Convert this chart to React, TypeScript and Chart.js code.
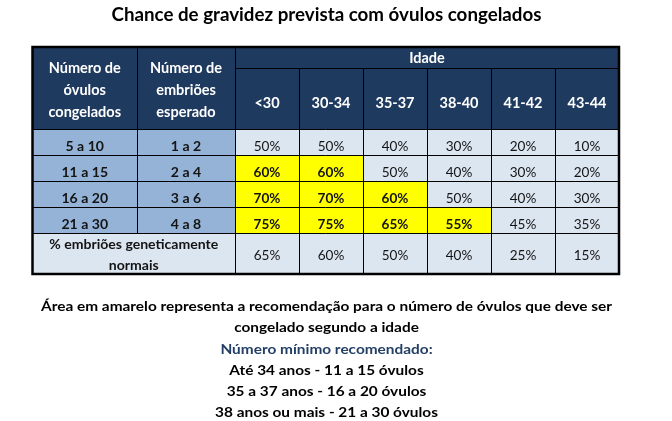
import React, { useEffect, useRef } from 'react';
import { Chart, registerables } from 'chart.js';
Chart.register(...registerables);

// ---------- data ----------
const titleText = 'Chance de gravidez prevista com óvulos congelados';
const ageHeader = 'Idade';
const ageGroups = ['<30', '30-34', '35-37', '38-40', '41-42', '43-44'];
const eggHeader = ['Número de', 'óvulos', 'congelados'];
const embryoHeader = ['Número de', 'embriões', 'esperado'];
const eggRanges = ['5 a 10', '11 a 15', '16 a 20', '21 a 30'];
const embryoRanges = ['1 a 2', '2 a 4', '3 a 6', '4 a 8'];
const pregnancyChance = [
  [50, 50, 40, 30, 20, 10],
  [60, 60, 50, 40, 30, 20],
  [70, 70, 60, 50, 40, 30],
  [75, 75, 65, 55, 45, 35],
];
const recommended = [
  [0, 0, 0, 0, 0, 0],
  [1, 1, 0, 0, 0, 0],
  [1, 1, 1, 0, 0, 0],
  [1, 1, 1, 1, 0, 0],
];
const normalLabel = ['% embriões geneticamente', 'normais'];
const normalEmbryos = [65, 60, 50, 40, 25, 15];
const noteLines = [
  'Área em amarelo representa a recomendação para o número de óvulos que deve ser',
  'congelado segundo a idade',
];
const minHeader = 'Número mínimo recomendado:';
const minLines = [
  'Até 34 anos - 11 a 15 óvulos',
  '35 a 37 anos - 16 a 20 óvulos',
  '38 anos ou mais - 21 a 30 óvulos',
];

// ---------- layout / style ----------
const COLS = [32.5, 137, 235, 299, 363, 427, 491, 555, 619];
const ROWS = [47, 68, 129, 155, 181, 207, 233, 274];
const CENTER_X = 326.5;
const FONT = 'Lato, "Open Sans", sans-serif';
const NAVY = '#1F3A5F';
const LABEL_BLUE = '#95B3D7';
const CELL_BLUE = '#DCE6F1';
const YELLOW = '#FFFF00';
const INK = '#141414';
const SIZE_RATIO = 0.92; // Lato size giving Calibri-like glyph height

const tablePlugin = {
  id: 'tableDraw',
  afterDraw(chart: any) {
    const { ctx, scales } = chart;
    const xs = scales.x;
    const ys = scales.y;
    const X = (v: number) => xs.getPixelForValue(v);
    const Y = (v: number) => ys.getPixelForValue(v);

    ctx.save();
    ctx.fillStyle = '#ffffff';
    ctx.fillRect(0, 0, chart.width, chart.height);

    // horizontal scale factors so text widths match the reference
    const fitX = (s: string, target: number, size: number) => {
      ctx.font = `bold ${size * SIZE_RATIO}px ${FONT}`;
      return target / ctx.measureText(s).width;
    };
    const sxNote = fitX(noteLines[0], 571, 15);
    const sxTitle = fitX(titleText, 430, 20);
    const sxBody = fitX(normalLabel[0], 169, 15);

    const cell = (c0: number, c1: number, r0: number, r1: number, fill: string) => {
      ctx.fillStyle = fill;
      ctx.fillRect(X(COLS[c0]), Y(ROWS[r0]), X(COLS[c1]) - X(COLS[c0]), Y(ROWS[r1]) - Y(ROWS[r0]));
    };
    const text = (s: string, cx: number, by: number, size: number, weight: string, color: string, sx: number) => {
      ctx.save();
      ctx.font = `${weight} ${size * SIZE_RATIO}px ${FONT}`;
      ctx.fillStyle = color;
      ctx.textAlign = 'center';
      ctx.textBaseline = 'alphabetic';
      ctx.translate(X(cx), Y(by));
      ctx.scale(sx, 1);
      ctx.fillText(s, 0, 0);
      ctx.restore();
    };
    const colMid = (c: number) => (COLS[c] + COLS[c + 1]) / 2;

    // header fills
    cell(0, 8, 0, 2, NAVY);
    // body fills
    eggRanges.forEach((_, r) => {
      cell(0, 2, r + 2, r + 3, LABEL_BLUE);
      ageGroups.forEach((_, c) => {
        cell(c + 2, c + 3, r + 2, r + 3, recommended[r][c] ? YELLOW : CELL_BLUE);
      });
    });
    cell(0, 8, 6, 7, CELL_BLUE);

    // grid lines
    ctx.strokeStyle = '#000000';
    ctx.lineWidth = 1;
    const hline = (r: number, c0: number, c1: number) => {
      ctx.beginPath();
      ctx.moveTo(X(COLS[c0]), Math.round(Y(ROWS[r])) + 0.5);
      ctx.lineTo(X(COLS[c1]), Math.round(Y(ROWS[r])) + 0.5);
      ctx.stroke();
    };
    const vline = (c: number, r0: number, r1: number) => {
      ctx.beginPath();
      ctx.moveTo(Math.round(X(COLS[c])) + 0.5, Y(ROWS[r0]));
      ctx.lineTo(Math.round(X(COLS[c])) + 0.5, Y(ROWS[r1]));
      ctx.stroke();
    };
    hline(1, 2, 8);
    for (let r = 2; r <= 6; r++) hline(r, 0, 8);
    vline(1, 0, 6);
    vline(2, 0, 7);
    for (let c = 3; c <= 7; c++) vline(c, 1, 7);
    ctx.lineWidth = 2.5;
    ctx.strokeRect(X(COLS[0]), Y(ROWS[0]), X(COLS[8]) - X(COLS[0]), Y(ROWS[7]) - Y(ROWS[0]));

    // title
    text(titleText, CENTER_X, 21, 20, 'bold', '#000000', sxTitle);

    // header texts
    const hs = 15.5;
    const headBase = [73, 95, 117];
    eggHeader.forEach((s, i) => text(s, colMid(0), headBase[i], hs, 'bold', '#ffffff', sxBody));
    embryoHeader.forEach((s, i) => text(s, colMid(1), headBase[i], hs, 'bold', '#ffffff', sxBody));
    text(ageHeader, (COLS[2] + COLS[8]) / 2, 63, hs, 'bold', '#ffffff', sxBody);
    ageGroups.forEach((s, c) => text(s, colMid(c + 2), 108, hs, 'bold', '#ffffff', sxBody));

    // body texts
    const bs = 15;
    const vs = 14.5;
    eggRanges.forEach((s, r) => {
      const by = ROWS[r + 3] - 4.5;
      text(s, colMid(0), by, bs, 'bold', INK, sxBody);
      text(embryoRanges[r], colMid(1), by, bs, 'bold', INK, sxBody);
      pregnancyChance[r].forEach((v, c) => {
        text(`${v}%`, colMid(c + 2), by, vs, recommended[r][c] ? 'bold' : 'normal', INK, sxBody);
      });
    });
    text(normalLabel[0], (COLS[0] + COLS[2]) / 2, 248.5, bs, 'bold', INK, sxBody);
    text(normalLabel[1], (COLS[0] + COLS[2]) / 2, 270, bs, 'bold', INK, sxBody);
    normalEmbryos.forEach((v, c) => text(`${v}%`, colMid(c + 2), 260, vs, 'normal', INK, sxBody));

    // notes
    const ns = 15;
    const noteBase = [311, 332, 353.5, 374.5, 395.5, 416.5];
    text(noteLines[0], CENTER_X, noteBase[0], ns, 'bold', '#000000', sxNote);
    text(noteLines[1], CENTER_X, noteBase[1], ns, 'bold', '#000000', sxNote);
    text(minHeader, CENTER_X, noteBase[2], ns, 'bold', '#243F66', sxNote);
    minLines.forEach((s, i) => text(s, CENTER_X, noteBase[3 + i], ns, 'bold', '#000000', sxNote));

    ctx.restore();
  },
};

export default function App() {
  const ref = useRef<HTMLCanvasElement>(null);
  useEffect(() => {
    document.body.style.margin = '0';
    const chart = new Chart(ref.current as HTMLCanvasElement, {
      type: 'scatter',
      data: { datasets: [{ data: [] }] },
      options: {
        responsive: false,
        animation: false,
        layout: { padding: 0 },
        plugins: { legend: { display: false }, tooltip: { enabled: false }, title: { display: false } },
        scales: {
          x: { type: 'linear', min: 0, max: 672, display: false },
          y: { type: 'linear', min: 0, max: 421, reverse: true, display: false },
        },
      },
      plugins: [tablePlugin],
    } as any);
    return () => chart.destroy();
  }, []);
  return (
    <div style={{ width: 672, height: 421 }}>
      <canvas ref={ref} width={672} height={421} style={{ display: 'block' }} />
    </div>
  );
}
